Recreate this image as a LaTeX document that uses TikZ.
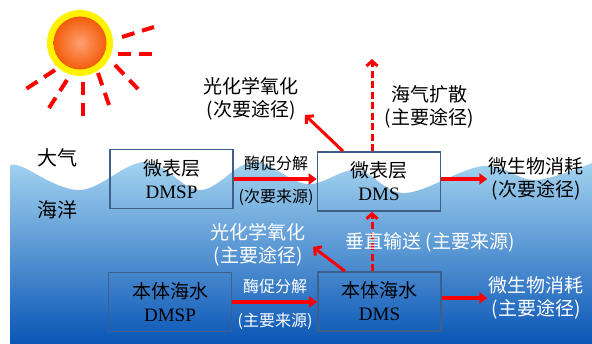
\documentclass[tikz,border=0pt]{standalone}
\usepackage{fontspec}
\setmainfont{Liberation Serif}
\newfontfamily\cjk{Noto Sans CJK SC}
\usetikzlibrary{arrows.meta}
\definecolor{sea-top}{HTML}{A3D3EF}
\definecolor{sea-mid}{HTML}{6AB3E2}
\definecolor{sea-deep}{HTML}{0A56B6}
\definecolor{box-edge}{HTML}{3E5F8A}
\definecolor{flow-red}{HTML}{FF0000}
\definecolor{sun-yellow}{HTML}{FFF200}
\definecolor{sun-core}{HTML}{FFA070}
\definecolor{sun-rim}{HTML}{F25C0A}

\begin{document}
\begin{tikzpicture}[x=1pt, y=-1pt,
  every node/.style={font=\cjk\fontsize{19}{23}\selectfont, align=center, inner sep=1pt},
  layer/.style={draw=box-edge, line width=1.6pt, minimum width=123pt, minimum height=59pt},
  small/.style={font=\cjk\fontsize{16}{19}\selectfont},
  flow/.style={draw=flow-red, line width=3.5pt, -{Triangle[length=8pt,width=11pt]}},
  branch/.style={draw=flow-red, line width=3pt, -{Straight Barb[length=5pt,width=11pt]}},
  transfer/.style={branch, dash pattern=on 7pt off 3.5pt}]
  \fill[white] (0,0) rectangle (592,344);
  \useasboundingbox (0,0) rectangle (592,344);

  % sea with wavy surface
  \shade[top color=sea-top, middle color=sea-mid, bottom color=sea-deep]
    plot[smooth, tension=0.6] coordinates {(10,167) (20,166) (80,190) (145,162) (200,190)
      (253,162) (307,184) (357,170) (405,193) (483,166) (535,180) (592,163)}
    -- (592,344) -- (10,344) -- cycle;

  % sun
  \fill[sun-yellow] (80,43) circle (33);
  \shade[inner color=sun-core, outer color=sun-rim] (80,43) circle (26.5);
  \foreach \xa/\ya/\xb/\yb in {122/37/154/27, 118/54/153/54, 115/65/138/89, 98/73/109/105,
      83/82/83/116, 67/80/49/108, 55/70/26/89}
    \draw[flow-red, line width=4pt, dash pattern=on 13pt off 8pt] (\xa,\ya) -- (\xb,\yb);

  \node[font=\cjk\fontsize{20}{23}\selectfont] (atmos) at (57,158) {大气};
  \node[font=\cjk\fontsize{20}{23}\selectfont] (ocean) at (57,210) {海洋};

  % the four pools
  \node[layer] (sml-dmsp) at (171.5,179) {微表层\\{\rmfamily DMSP}};
  \node[layer] (sml-dms) at (379,181.5) {微表层\\{\rmfamily DMS}};
  \node[layer] (blk-dmsp) at (170,302) {本体海水\\{\rmfamily DMSP}};
  \node[layer] (blk-dms) at (379.5,301.5) {本体海水\\{\rmfamily DMS}};

  \node (photo-up) at (251,99) {光化学氧化\\(次要途径)};
  \node (flux) at (429,107) {海气扩散\\(主要途径)};
  \node[small] (enz-up) at (276,163) {酶促分解};
  \node[small] (src-up) at (276,197) {(次要来源)};
  \node (loss-up) at (536,179) {微生物消耗\\(次要途径)};
  \node[text=white] (photo-dn) at (258,245) {光化学氧化\\(主要途径)};
  \node[small, text=white] (enz-dn) at (275,286) {酶促分解};
  \node[small, text=white] (src-dn) at (275,321) {(主要来源)};
  \node[text=white] (loss-dn) at (536,298) {微生物消耗\\(主要途径)};

  \coordinate (photo-up-tip) at (305,115);
  \coordinate (photo-dn-tip) at (313,247);
  \coordinate (flux-tip) at (372,59);

  \draw[flow] (sml-dmsp.east) -- (sml-dmsp.east -| sml-dms.west);
  \draw[flow] (sml-dms.east |- loss-up.west) -- (loss-up.west);
  \draw[flow] (blk-dmsp.east) -- (blk-dmsp.east -| blk-dms.west);
  \draw[flow] (blk-dms.east |- loss-dn.west) -- (loss-dn.west);
  \draw[branch] ([xshift=-36pt]sml-dms.north) -- (photo-up-tip);
  \draw[transfer] ([xshift=-7pt]sml-dms.north) -- (flux-tip);
  \draw[branch] ([xshift=-34.5pt]blk-dms.north) -- (photo-dn-tip);
  \draw[transfer] ([xshift=-7.5pt]blk-dms.north) -- ([xshift=-7pt]sml-dms.south);

  % label sits over the dashed line
  \node[text=white] (vert) at (430,242) {垂直输送 (主要来源)};
\end{tikzpicture}
\end{document}
